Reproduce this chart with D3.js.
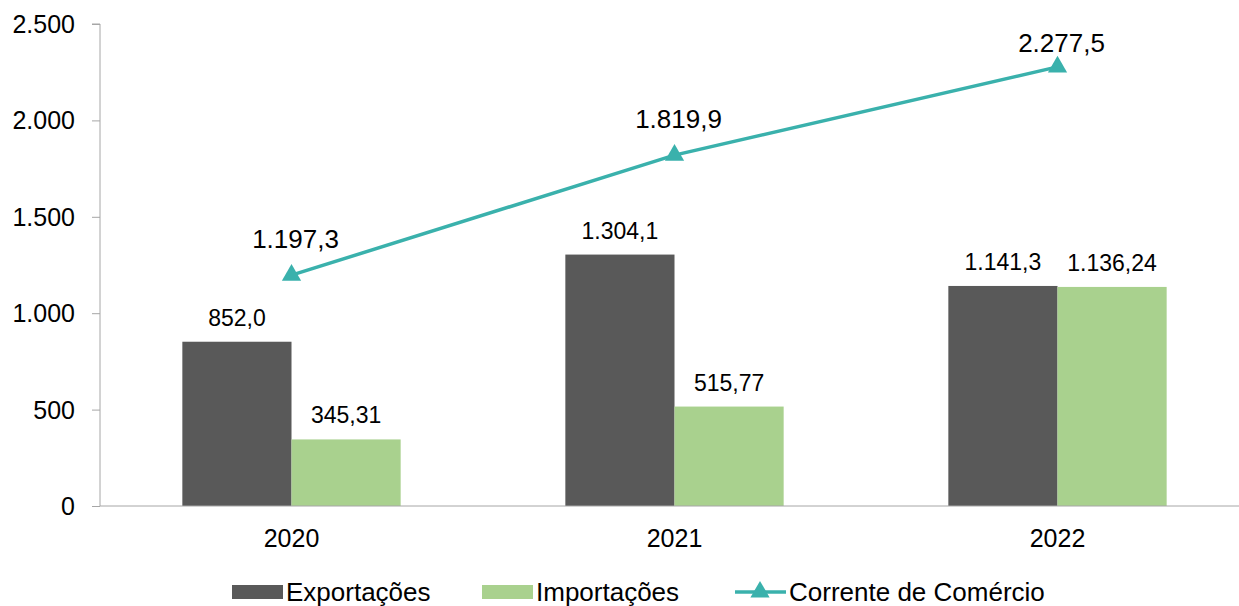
<!DOCTYPE html>
<html>
<head>
<meta charset="utf-8">
<script src="https://cdn.jsdelivr.net/npm/d3@7"></script>
<style>
  body { margin: 0; background: #fff; }
  text { font-family: "Liberation Sans", Arial, sans-serif; fill: #000; }
</style>
</head>
<body>
<main></main>
<script>
// chart values
let years = ['2020', '2021', '2022'];
let exportacoes = [852.0, 1304.1, 1141.3];
let importacoes = [345.31, 515.77, 1136.24];
let corrente = [1197.3, 1819.9, 2277.5];
let exportLabels = ['852,0', '1.304,1', '1.141,3'];
let importLabels = ['345,31', '515,77', '1.136,24'];
let correnteLabels = ['1.197,3', '1.819,9', '2.277,5'];
let yTicks = [0, 500, 1000, 1500, 2000, 2500];
let yTickLabels = ['0', '500', '1.000', '1.500', '2.000', '2.500'];

let width = 1239;
let height = 606;

let margin = { top: 24, left: 100, bottom: 100, right: -10 };

let colors = { exp: '#595959', imp: '#A9D18E', line: '#3AB1AC', axis: '#A6A6A6' };

let svg = d3.select('main')
  .append('svg')
  .attr('width', width)
  .attr('height', height);

function label(g, px, py, txt, size, anchor) {
  return g.append('text')
    .attr('x', px)
    .attr('y', py)
    .attr('text-anchor', anchor || 'middle')
    .style('font-size', size + 'px')
    .text(txt);
}

let x = d3.scaleBand()
  .domain(years)
  .range([margin.left, width - margin.right])
  .paddingInner(0)
  .paddingOuter(0);

let y = d3.scaleLinear()
  .domain([0, 2500])
  .range([height - margin.bottom, margin.top]);

let barW = x.bandwidth() * 0.285;
let cx = d => x(d) + x.bandwidth() / 2;

// y axis
let yAxis = svg.append('g')
  .attr('transform', `translate(${margin.left},0)`)
  .call(d3.axisLeft(y).tickValues(yTicks).tickSize(8).tickFormat(''));
yAxis.selectAll('line').attr('stroke', colors.axis);
yAxis.select('.domain').attr('stroke', colors.axis).attr('d', `M-8,${y(2500)}H0V${y(0)}`);

yTicks.forEach((t, i) => {
  label(svg, margin.left - 25, y(t) + 9, yTickLabels[i], 25, 'end');
});

// bars
svg.selectAll('.exp')
  .data(years)
  .enter().append('rect')
  .attr('class', 'exp')
  .attr('x', d => cx(d) - barW)
  .attr('y', (d, i) => y(exportacoes[i]))
  .attr('width', barW)
  .attr('height', (d, i) => y(0) - y(exportacoes[i]))
  .attr('fill', colors.exp);

svg.selectAll('.imp')
  .data(years)
  .enter().append('rect')
  .attr('class', 'imp')
  .attr('x', d => cx(d))
  .attr('y', (d, i) => y(importacoes[i]))
  .attr('width', barW)
  .attr('height', (d, i) => y(0) - y(importacoes[i]))
  .attr('fill', colors.imp);

// x axis (baseline, no ticks)
let xAxis = svg.append('g')
  .attr('transform', `translate(0,${y(0)})`)
  .call(d3.axisBottom(x).tickSize(0).tickFormat(''));
xAxis.select('.domain').attr('stroke', colors.axis).attr('d', `M${margin.left},0H${width}`);

years.forEach(d => label(svg, cx(d), y(0) + 41, d, 25));

// bar labels
years.forEach((d, i) => {
  label(svg, cx(d) - barW / 2, y(exportacoes[i]) - 16, exportLabels[i], 23);
  label(svg, cx(d) + barW / 2, y(importacoes[i]) - 16, importLabels[i], 23);
});

// line
let line = d3.line()
  .x(d => cx(d))
  .y((d, i) => y(corrente[i]));

svg.append('path')
  .datum(years)
  .attr('d', line)
  .attr('fill', 'none')
  .attr('stroke', colors.line)
  .attr('stroke-width', 3.5);

let tri = d3.symbol().type(d3.symbolTriangle).size(160);

svg.selectAll('.marker')
  .data(years)
  .enter().append('path')
  .attr('d', tri)
  .attr('transform', (d, i) => `translate(${cx(d)},${y(corrente[i])})`)
  .attr('fill', colors.line);

years.forEach((d, i) => {
  label(svg, cx(d) + 4, Math.max(y(corrente[i]) - 27, 52), correnteLabels[i], 26);
});

// legend
let legend = svg.append('g').attr('transform', 'translate(0,592)');
let legendItems = [
  { name: 'Exportações', x: 232, type: 'rect', color: colors.exp },
  { name: 'Importações', x: 482, type: 'rect', color: colors.imp },
  { name: 'Corrente de Comércio', x: 735, type: 'line', color: colors.line }
];

legendItems.forEach(item => {
  if (item.type === 'rect') {
    legend.append('rect')
      .attr('x', item.x).attr('y', -7)
      .attr('width', 51).attr('height', 14)
      .attr('fill', item.color);
  } else {
    legend.append('line')
      .attr('x1', item.x).attr('x2', item.x + 51)
      .attr('y1', 0).attr('y2', 0)
      .attr('stroke', item.color).attr('stroke-width', 3.5);
    legend.append('path')
      .attr('d', tri)
      .attr('transform', `translate(${item.x + 25},0)`)
      .attr('fill', item.color);
  }
  label(legend, item.x + 54, 9, item.name, 26, 'start');
});
</script>
</body>
</html>
